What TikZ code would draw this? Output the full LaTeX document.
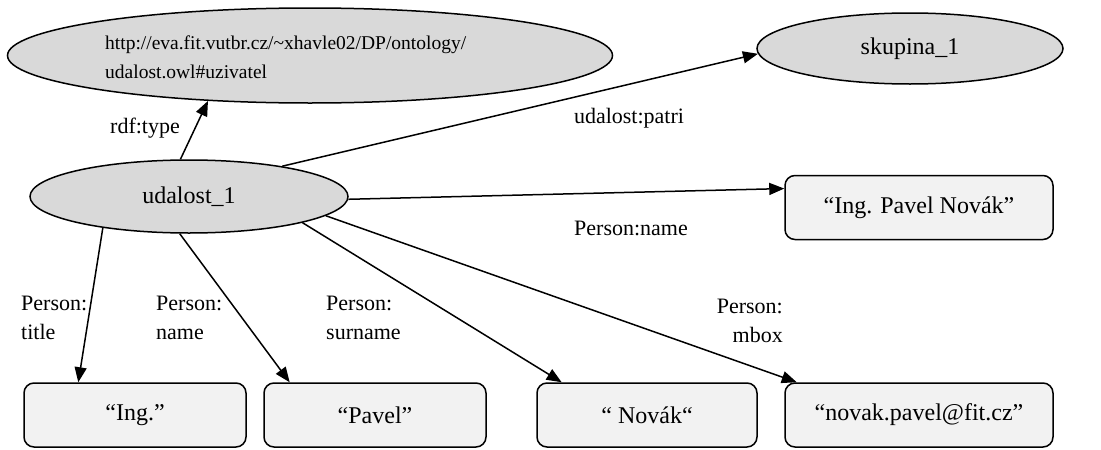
\documentclass[tikz,border=0pt]{standalone}
\usepackage{fontspec}
\setmainfont{Liberation Serif}
\usetikzlibrary{arrows.meta,shapes.geometric}
\definecolor{ellfill}{HTML}{D9D9D9}
\definecolor{boxfill}{HTML}{F2F2F2}
\begin{document}
\begin{tikzpicture}[x=1pt,y=-1pt,
  ell/.style={ellipse,draw=black,line width=1.5pt,fill=ellfill,inner sep=0pt,
    font=\fontsize{24}{28}\selectfont},
  lit/.style={rectangle,rounded corners=10pt,draw=black,line width=1.5pt,fill=boxfill,
    inner sep=0pt,minimum height=64pt,font=\fontsize{24}{28}\selectfont},
  edge/.style={line width=1.5pt,-{Triangle[length=15pt,width=12pt]}},
  lbl/.style={inner sep=0pt,font=\fontsize{22}{29}\selectfont},
  url/.style={inner sep=0pt,align=left,font=\fontsize{19.5}{29}\selectfont}]
\useasboundingbox (0,0) rectangle (1101,450);
% nodes
\node[ell,minimum width=605pt,minimum height=95pt] (type) at (310,55.5) {};
\node[url,anchor=west] (typetext) at (105,57.5) {http://eva.fit.vutbr.cz/\textasciitilde xhavle02/DP/ontology/\\udalost.owl\#uzivatel};
\node[ell,minimum width=306pt,minimum height=71pt] (sk) at (910,48.5) {skupina\_1};
\node[ell,minimum width=318pt,minimum height=73pt] (u) at (189,196.5) {udalost\_1};
\node[lit,minimum width=268pt] (full) at (919,207.5) {“Ing. Pavel Novák”};
\node[lit,minimum width=222pt] (ing) at (135,415) {“Ing.”};
\node[lit,minimum width=222pt] (pavel) at (375,415) {“Pavel”};
\node[lit,minimum width=220pt] (novak) at (647,415) {“ Novák“};
\node[lit,minimum width=268pt] (mail) at (919,415) {“novak.pavel@fit.cz”};
% edges
\draw[edge] (u.103.7) -- (type.204);
\draw[edge] (u.18.4) -- (sk.182);
\draw[edge] (u.-1.5) -- (full.172);
\draw[edge] (u.200.8) -- (ing.150.3);
\draw[edge] (u.256.3) -- (pavel.159.8);
\draw[edge] (u.-13.4) -- (novak.159.6);
\draw[edge] (u.-8) -- (mail.165.5);
% labels
\node[lbl] (l1) at (145,128) {rdf:type};
\node[lbl] (l2) at (629,118) {udalost:patri};
\node[lbl] (l3) at (631,228) {Person:name};
\node[lbl,align=left,anchor=west] (l4) at (21,317.5) {Person:\\title};
\node[lbl,align=left,anchor=west] (l5) at (156,317.5) {Person:\\name};
\node[lbl,align=left,anchor=west] (l6) at (326,317.5) {Person:\\surname};
\node[lbl,align=right,anchor=east] (l7) at (783,321) {Person:\\mbox};
\end{tikzpicture}
\end{document}
